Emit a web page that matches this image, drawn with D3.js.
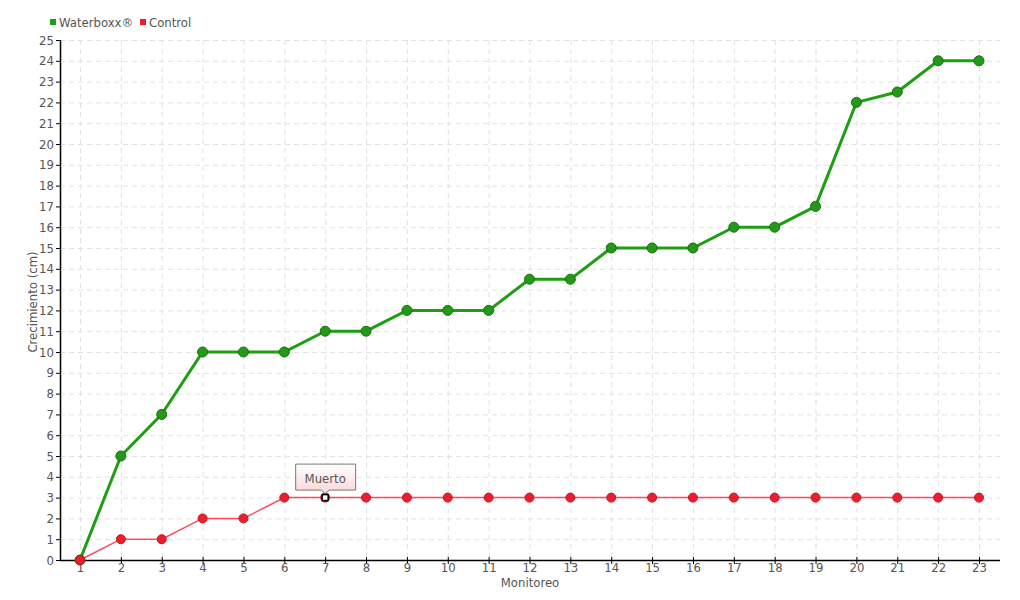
<!DOCTYPE html>
<html>
<head>
<meta charset="utf-8">
<script src="https://cdn.jsdelivr.net/npm/d3@7"></script>
<style>
body { margin: 0; background: #fff; }
text { font-family: "DejaVu Sans Condensed", "DejaVu Sans", sans-serif; }
</style>
</head>
<body>
<svg width="1020" height="600"></svg>
<script>
var monitoreo = d3.range(1, 24);
var waterboxx = [0, 5, 7, 10, 10, 10, 11, 11, 12, 12, 12, 13.5, 13.5, 15, 15, 15, 16, 16, 17, 22, 22.5, 24, 24];
var control = [0, 1, 1, 2, 2, 3, 3, 3, 3, 3, 3, 3, 3, 3, 3, 3, 3, 3, 3, 3, 3, 3, 3];
var yTicks = d3.range(0, 26);
var note = { index: 6, label: "Muerto" };

var svg = d3.select("svg"),
	pLeft = 60, pRight = 1000, pTop = 40, pBottom = 560;

var x = d3.scalePoint().domain(monitoreo).range([80, 979]);
var y = d3.scaleLinear().domain([0, 25]).range([pBottom, pTop]);

var defs = svg.append("defs");
var grad = defs.append("linearGradient").attr("id", "tip").attr("x1", 0).attr("y1", 0).attr("x2", 0).attr("y2", 1);
grad.append("stop").attr("offset", "0%").attr("stop-color", "#ffffff");
grad.append("stop").attr("offset", "100%").attr("stop-color", "#fbd6d6");

// grid
var grid = svg.append("g").attr("stroke", "#e2e2e2").attr("stroke-dasharray", "5,4").attr("stroke-width", 1);
grid.selectAll("line.h").data(yTicks.slice(1)).enter().append("line")
	.attr("x1", pLeft).attr("x2", pRight)
	.attr("y1", function(d) { return y(d) + 0.5; })
	.attr("y2", function(d) { return y(d) + 0.5; });
grid.selectAll("line.v").data(monitoreo).enter().append("line")
	.attr("x1", function(d) { return x(d) + 0.5; })
	.attr("x2", function(d) { return x(d) + 0.5; })
	.attr("y1", pTop).attr("y2", pBottom);

// axes
var yAxis = svg.append("g").attr("transform", "translate(" + pLeft + ",0)")
	.call(d3.axisLeft(y).tickValues(yTicks).tickSize(4).tickPadding(2));
var xAxis = svg.append("g").attr("transform", "translate(0," + pBottom + ")")
	.call(d3.axisBottom(x).tickSize(4));
xAxis.select(".domain").attr("d", "M" + pLeft + ",0.5H" + pRight);
yAxis.select(".domain").attr("d", "M0.5," + pTop + "V" + (pBottom + 0.5));
xAxis.selectAll(".tick line").attr("y1", -3);
xAxis.selectAll(".tick text").attr("y", 3);
svg.selectAll(".domain").attr("stroke", "#000").attr("stroke-width", 1.5);
svg.selectAll(".tick line").attr("stroke", "#000");
svg.selectAll(".tick text").attr("fill", "#555").style("font-size", "13px")
	.style("font-family", "'DejaVu Sans Condensed', sans-serif");

// axis titles
svg.append("text").attr("x", 530).attr("y", 587).attr("text-anchor", "middle")
	.attr("fill", "#555").style("font-size", "13px").text("Monitoreo");
svg.append("text").attr("transform", "translate(37,302) rotate(-90)").attr("text-anchor", "middle")
	.attr("fill", "#555").style("font-size", "13px").text("Crecimiento (cm)");

// series
var line = d3.line().x(function(d, i) { return x(monitoreo[i]); }).y(function(d) { return y(d); });

svg.append("path").datum(control).attr("d", line)
	.attr("fill", "none").attr("stroke", "#ff4a5e").attr("stroke-width", 1.5);
svg.append("path").datum(waterboxx).attr("d", line)
	.attr("fill", "none").attr("stroke", "#1e9e12").attr("stroke-width", 3);

svg.append("g").selectAll("circle").data(waterboxx).enter().append("circle")
	.attr("cx", function(d, i) { return x(monitoreo[i]); })
	.attr("cy", function(d) { return y(d); })
	.attr("r", 5).attr("fill", "#229a18").attr("stroke", "#1a6e12").attr("stroke-width", 1);

svg.append("g").selectAll("circle").data(control).enter().append("circle")
	.attr("cx", function(d, i) { return x(monitoreo[i]); })
	.attr("cy", function(d) { return y(d); })
	.attr("r", 4.5).attr("fill", "#e8202e").attr("stroke", "#d0101e").attr("stroke-width", 1);

// annotation
var nx = x(monitoreo[note.index]), ny = y(control[note.index]);
svg.append("rect").attr("x", nx - 3).attr("y", ny - 3).attr("width", 6).attr("height", 6)
	.attr("fill", "#fff").attr("stroke", "#000").attr("stroke-width", 1.5);
var tip = svg.append("g").attr("transform", "translate(" + nx + "," + ny + ")");
tip.append("path")
	.attr("d", "M-29.5,-33.5H30.5V-7.5H4L0,-4L-4,-7.5H-29.5Z")
	.attr("fill", "url(#tip)").attr("stroke", "#777").attr("stroke-width", 1);
tip.append("text").attr("x", 0).attr("y", -15).attr("text-anchor", "middle")
	.attr("fill", "#555").style("font-size", "13px").text(note.label);

// legend
var legend = svg.append("g").attr("transform", "translate(50,22)");
var items = [{ name: "Waterboxx®", color: "#1e9e12", x: 0 }, { name: "Control", color: "#ee1c2e", x: 90 }];
var li = legend.selectAll("g").data(items).enter().append("g")
	.attr("transform", function(d) { return "translate(" + d.x + ",0)"; });
li.append("rect").attr("x", 0).attr("y", -3).attr("width", 6).attr("height", 6).attr("fill", function(d) { return d.color; });
li.append("text").attr("x", 9).attr("y", 5).attr("fill", "#555").style("font-size", "13px").text(function(d) { return d.name; });
</script>
</body>
</html>
